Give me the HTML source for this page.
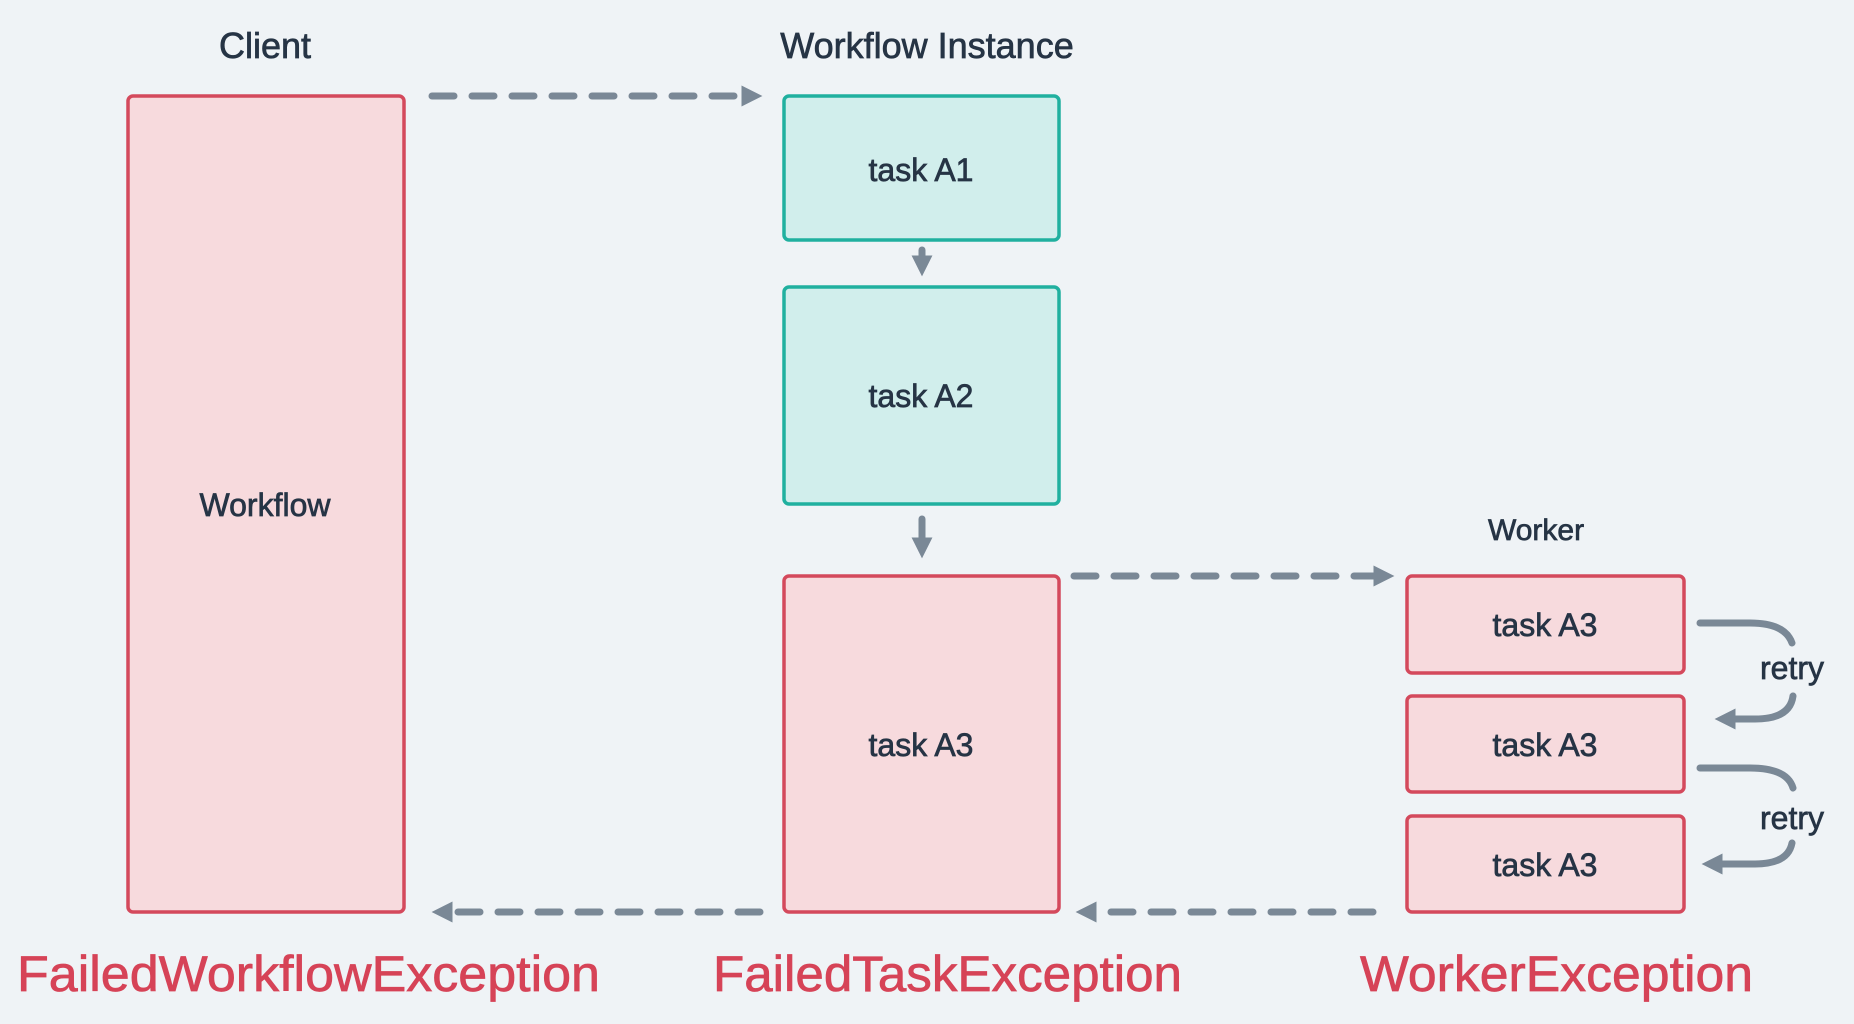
<!DOCTYPE html>
<html><head><meta charset="utf-8"><style>
html,body{margin:0;padding:0;background:#eff3f6;}
svg{display:block}
text{font-family:"Liberation Sans",sans-serif;fill:#263445;stroke:#263445;stroke-width:0.7;}
</style></head><body>
<svg width="1854" height="1024" viewBox="0 0 1854 1024" xmlns="http://www.w3.org/2000/svg">
<defs>
<marker id="ah" viewBox="0 0 10 10" refX="6" refY="5" markerWidth="3" markerHeight="3" orient="auto-start-reverse" markerUnits="strokeWidth">
<path d="M0,0 L10,5 L0,10 z" fill="#7a8896"/></marker>
</defs>
<rect width="1854" height="1024" fill="#eff3f6"/>
<g stroke-width="3.5">
<rect x="128" y="96" width="276" height="816" rx="5" fill="#f7dadd" stroke="#d4495c"/>
<rect x="784" y="96" width="275" height="144" rx="5" fill="#d1eeec" stroke="#20b09f"/>
<rect x="784" y="287" width="275" height="217" rx="5" fill="#d1eeec" stroke="#20b09f"/>
<rect x="784" y="576" width="275" height="336" rx="5" fill="#f7dadd" stroke="#d4495c"/>
<rect x="1407" y="576" width="277" height="97" rx="5" fill="#f7dadd" stroke="#d4495c"/>
<rect x="1407" y="696" width="277" height="96" rx="5" fill="#f7dadd" stroke="#d4495c"/>
<rect x="1407" y="816" width="277" height="96" rx="5" fill="#f7dadd" stroke="#d4495c"/>
</g>
<g stroke="#7a8896" stroke-width="7" stroke-linecap="round" fill="none">
<path d="M432,96 L754,96" stroke-dasharray="22,18" marker-end="url(#ah)"/>
<path d="M1074,576 L1386,576" stroke-dasharray="22,18" marker-end="url(#ah)"/>
<path d="M760,912 L440,912" stroke-dasharray="22,18" marker-end="url(#ah)"/>
<path d="M1373,912 L1084,912" stroke-dasharray="22,18" marker-end="url(#ah)"/>
<path d="M922,250 L922,268" marker-end="url(#ah)"/>
<path d="M922,519 L922,550" marker-end="url(#ah)"/>
<path d="M1700,623 L1750,623 Q1785,623 1792,643"/>
<path d="M1793,696 Q1790,719 1755,719 L1723,719" marker-end="url(#ah)"/>
<path d="M1700,768 L1750,768 Q1787,768 1793,788"/>
<path d="M1792,843 Q1788,864 1755,864 L1710,864" marker-end="url(#ah)"/>
</g>
<g font-size="36" text-anchor="middle">
<text x="265" y="58">Client</text>
<text x="927" y="58">Workflow Instance</text>
</g>
<g font-size="32" text-anchor="middle">
<text x="265" y="516">Workflow</text>
<text x="921" y="181">task A1</text>
<text x="921" y="407">task A2</text>
<text x="921" y="756">task A3</text>
<text x="1545" y="636">task A3</text>
<text x="1545" y="756">task A3</text>
<text x="1545" y="876">task A3</text>
<text x="1536" y="540" font-size="30">Worker</text>
<text x="1792" y="679">retry</text>
<text x="1792" y="829">retry</text>
</g>
<g font-size="50">
<text x="17" y="991" textLength="583" lengthAdjust="spacingAndGlyphs" style="fill:#d64357;stroke:#d64357">FailedWorkflowException</text>
<text x="713" y="991" textLength="469" lengthAdjust="spacingAndGlyphs" style="fill:#d64357;stroke:#d64357">FailedTaskException</text>
<text x="1360" y="991" textLength="393" lengthAdjust="spacingAndGlyphs" style="fill:#d64357;stroke:#d64357">WorkerException</text>
</g>
</svg>
</body></html>
